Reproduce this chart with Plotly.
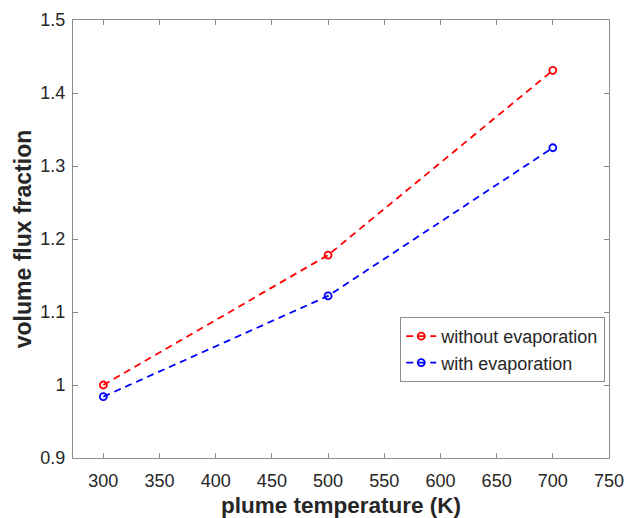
import plotly.graph_objects as go

# plume temperature (K)
temperature = [300, 500, 700]
# volume flux fraction for each case
without_evap = [1.0, 1.178, 1.431]
with_evap = [0.984, 1.122, 1.325]

x_ticks = [300, 350, 400, 450, 500, 550, 600, 650, 700, 750]
y_ticks = [0.9, 1.0, 1.1, 1.2, 1.3, 1.4, 1.5]
y_tick_text = ["0.9", "1", "1.1", "1.2", "1.3", "1.4", "1.5"]

font_family = "Liberation Sans, Arial, Helvetica, sans-serif"
axis_color = "#8c8c8c"
text_color = "#262626"

fig = go.Figure()
fig.add_trace(go.Scatter(
    x=temperature, y=without_evap, name="without evaporation",
    mode="lines+markers",
    line=dict(color="#ff0000", width=1.8, dash="7px,5px"),
    marker=dict(symbol="circle-open", size=7, color="#ff0000", line=dict(width=1.8)),
))
fig.add_trace(go.Scatter(
    x=temperature, y=with_evap, name="with evaporation",
    mode="lines+markers",
    line=dict(color="#0000ff", width=1.8, dash="7px,5px"),
    marker=dict(symbol="circle-open", size=7, color="#0000ff", line=dict(width=1.8)),
))

axis_common = dict(
    showline=True, linecolor=axis_color, linewidth=1, mirror="ticks",
    ticks="inside", ticklen=5, tickcolor=axis_color, tickwidth=1,
    showgrid=False, zeroline=False, automargin=False,
    tickfont=dict(family=font_family, size=18, color=text_color),
)

fig.update_layout(
    width=627, height=518,
    margin=dict(l=73, r=18, t=20, b=60),
    paper_bgcolor="white", plot_bgcolor="white",
    font=dict(family=font_family, color=text_color),
    xaxis=dict(
        range=[273, 750], tickvals=x_ticks, ticklabelstandoff=6,
        title=dict(text="<b>plume temperature (K)</b>",
                   font=dict(family=font_family, size=22.5, color=text_color),
                   standoff=7),
        **axis_common,
    ),
    yaxis=dict(
        range=[0.9, 1.5], tickvals=y_ticks, ticktext=y_tick_text,
        ticklabelstandoff=3,
        title=dict(text="<b>volume flux fraction</b>",
                   font=dict(family=font_family, size=23, color=text_color),
                   standoff=2),
        **axis_common,
    ),
    legend=dict(
        x=0.993, y=0.322, xanchor="right", yanchor="top",
        bgcolor="white", bordercolor=axis_color, borderwidth=1,
        font=dict(family=font_family, size=18, color=text_color),
        itemwidth=30, tracegroupgap=0,
    ),
    showlegend=True,
)

fig.write_html("out.html")
